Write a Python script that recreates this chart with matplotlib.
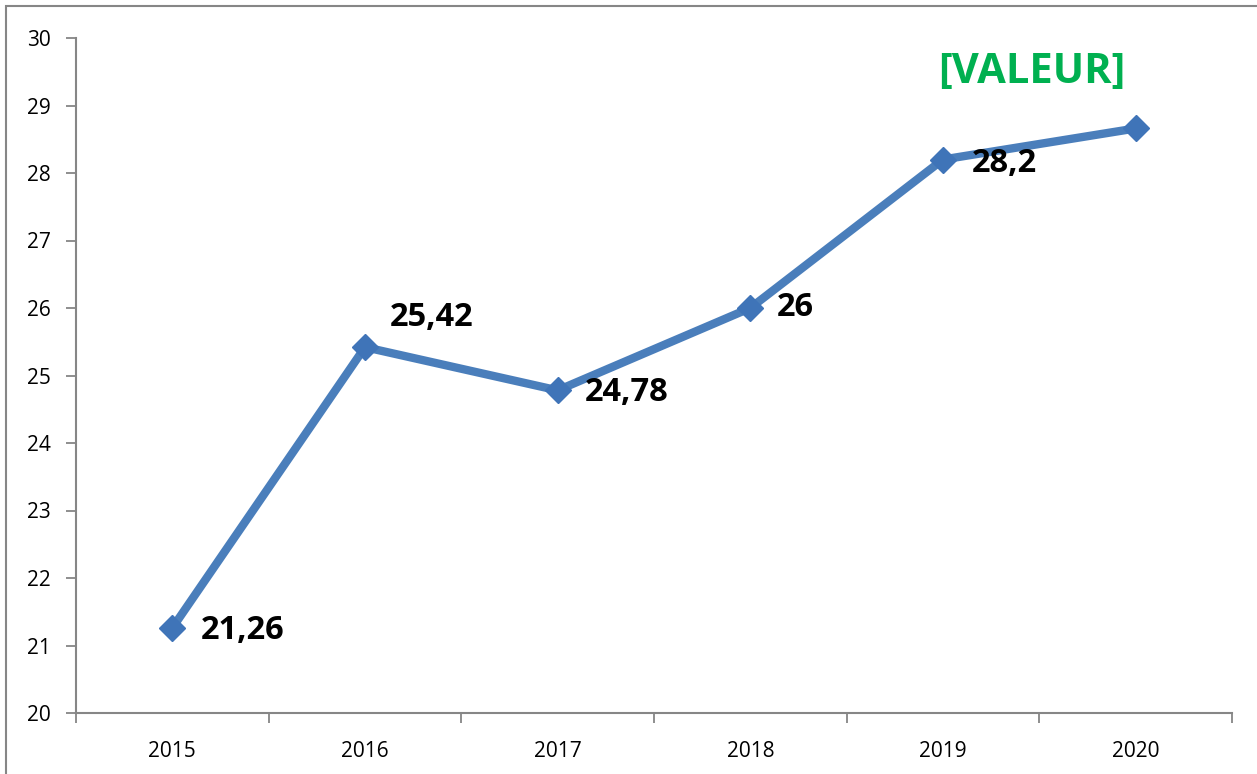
import matplotlib.pyplot as plt
from matplotlib.patches import Rectangle

plt.rcParams['font.family'] = ['Open Sans', 'DejaVu Sans']

years = ['2015', '2016', '2017', '2018', '2019', '2020']
values = [21.26, 25.42, 24.78, 26.0, 28.2, 28.66]
labels = ['21,26', '25,42', '24,78', '26', '28,2', '[VALEUR]']
# label offsets in pixels (dx, dy) from the point
offsets = [(28, -3), (25, 30), (27, -2), (26, 0), (29, -4), (-198, 56)]
label_colors = ['black', 'black', 'black', 'black', 'black', '#00b050']
label_sizes = [23.5, 23.5, 23.5, 23.5, 23.5, 30]

fig = plt.figure(figsize=(12.57, 7.74), dpi=100)
ax = fig.add_axes([76 / 1257, 61 / 774, 1156 / 1257, 675 / 774])

x = list(range(len(years)))
ax.plot(x, values, color='#4a7ebb', linewidth=6, marker='D', markersize=13,
        markerfacecolor='#3f74b8', markeredgecolor='#3f74b8', solid_joinstyle='miter')

for i in x:
    ax.annotate(labels[i], (x[i], values[i]), xytext=offsets[i], textcoords='offset pixels',
                fontsize=label_sizes[i], fontweight='bold', color=label_colors[i],
                ha='left', va='center')

ax.set_xlim(-0.5, 5.5)
ax.set_ylim(20, 30)
ax.set_yticks(range(20, 31))
ax.set_xticks(x)
ax.set_xticklabels(years)
ax.set_xticks([i - 0.5 for i in range(len(years) + 1)], minor=True)
ax.tick_params(axis='x', which='major', length=0, pad=20, labelsize=15)
ax.tick_params(axis='x', which='minor', length=7, width=1.3, color='#868686', direction='out')
ax.tick_params(axis='y', length=7, width=1.3, color='#868686', labelsize=15, pad=11)

for s in ['top', 'right']:
    ax.spines[s].set_visible(False)
for s in ['left', 'bottom']:
    ax.spines[s].set_color('#868686')
    ax.spines[s].set_linewidth(1.5)

fig.patches.append(Rectangle((6 / 1257, -0.01), 1.0, 1.0 - 6 / 774 + 0.01, transform=fig.transFigure,
                             fill=False, edgecolor='#868686', linewidth=1.5))

fig.savefig('out.png', dpi=100)
